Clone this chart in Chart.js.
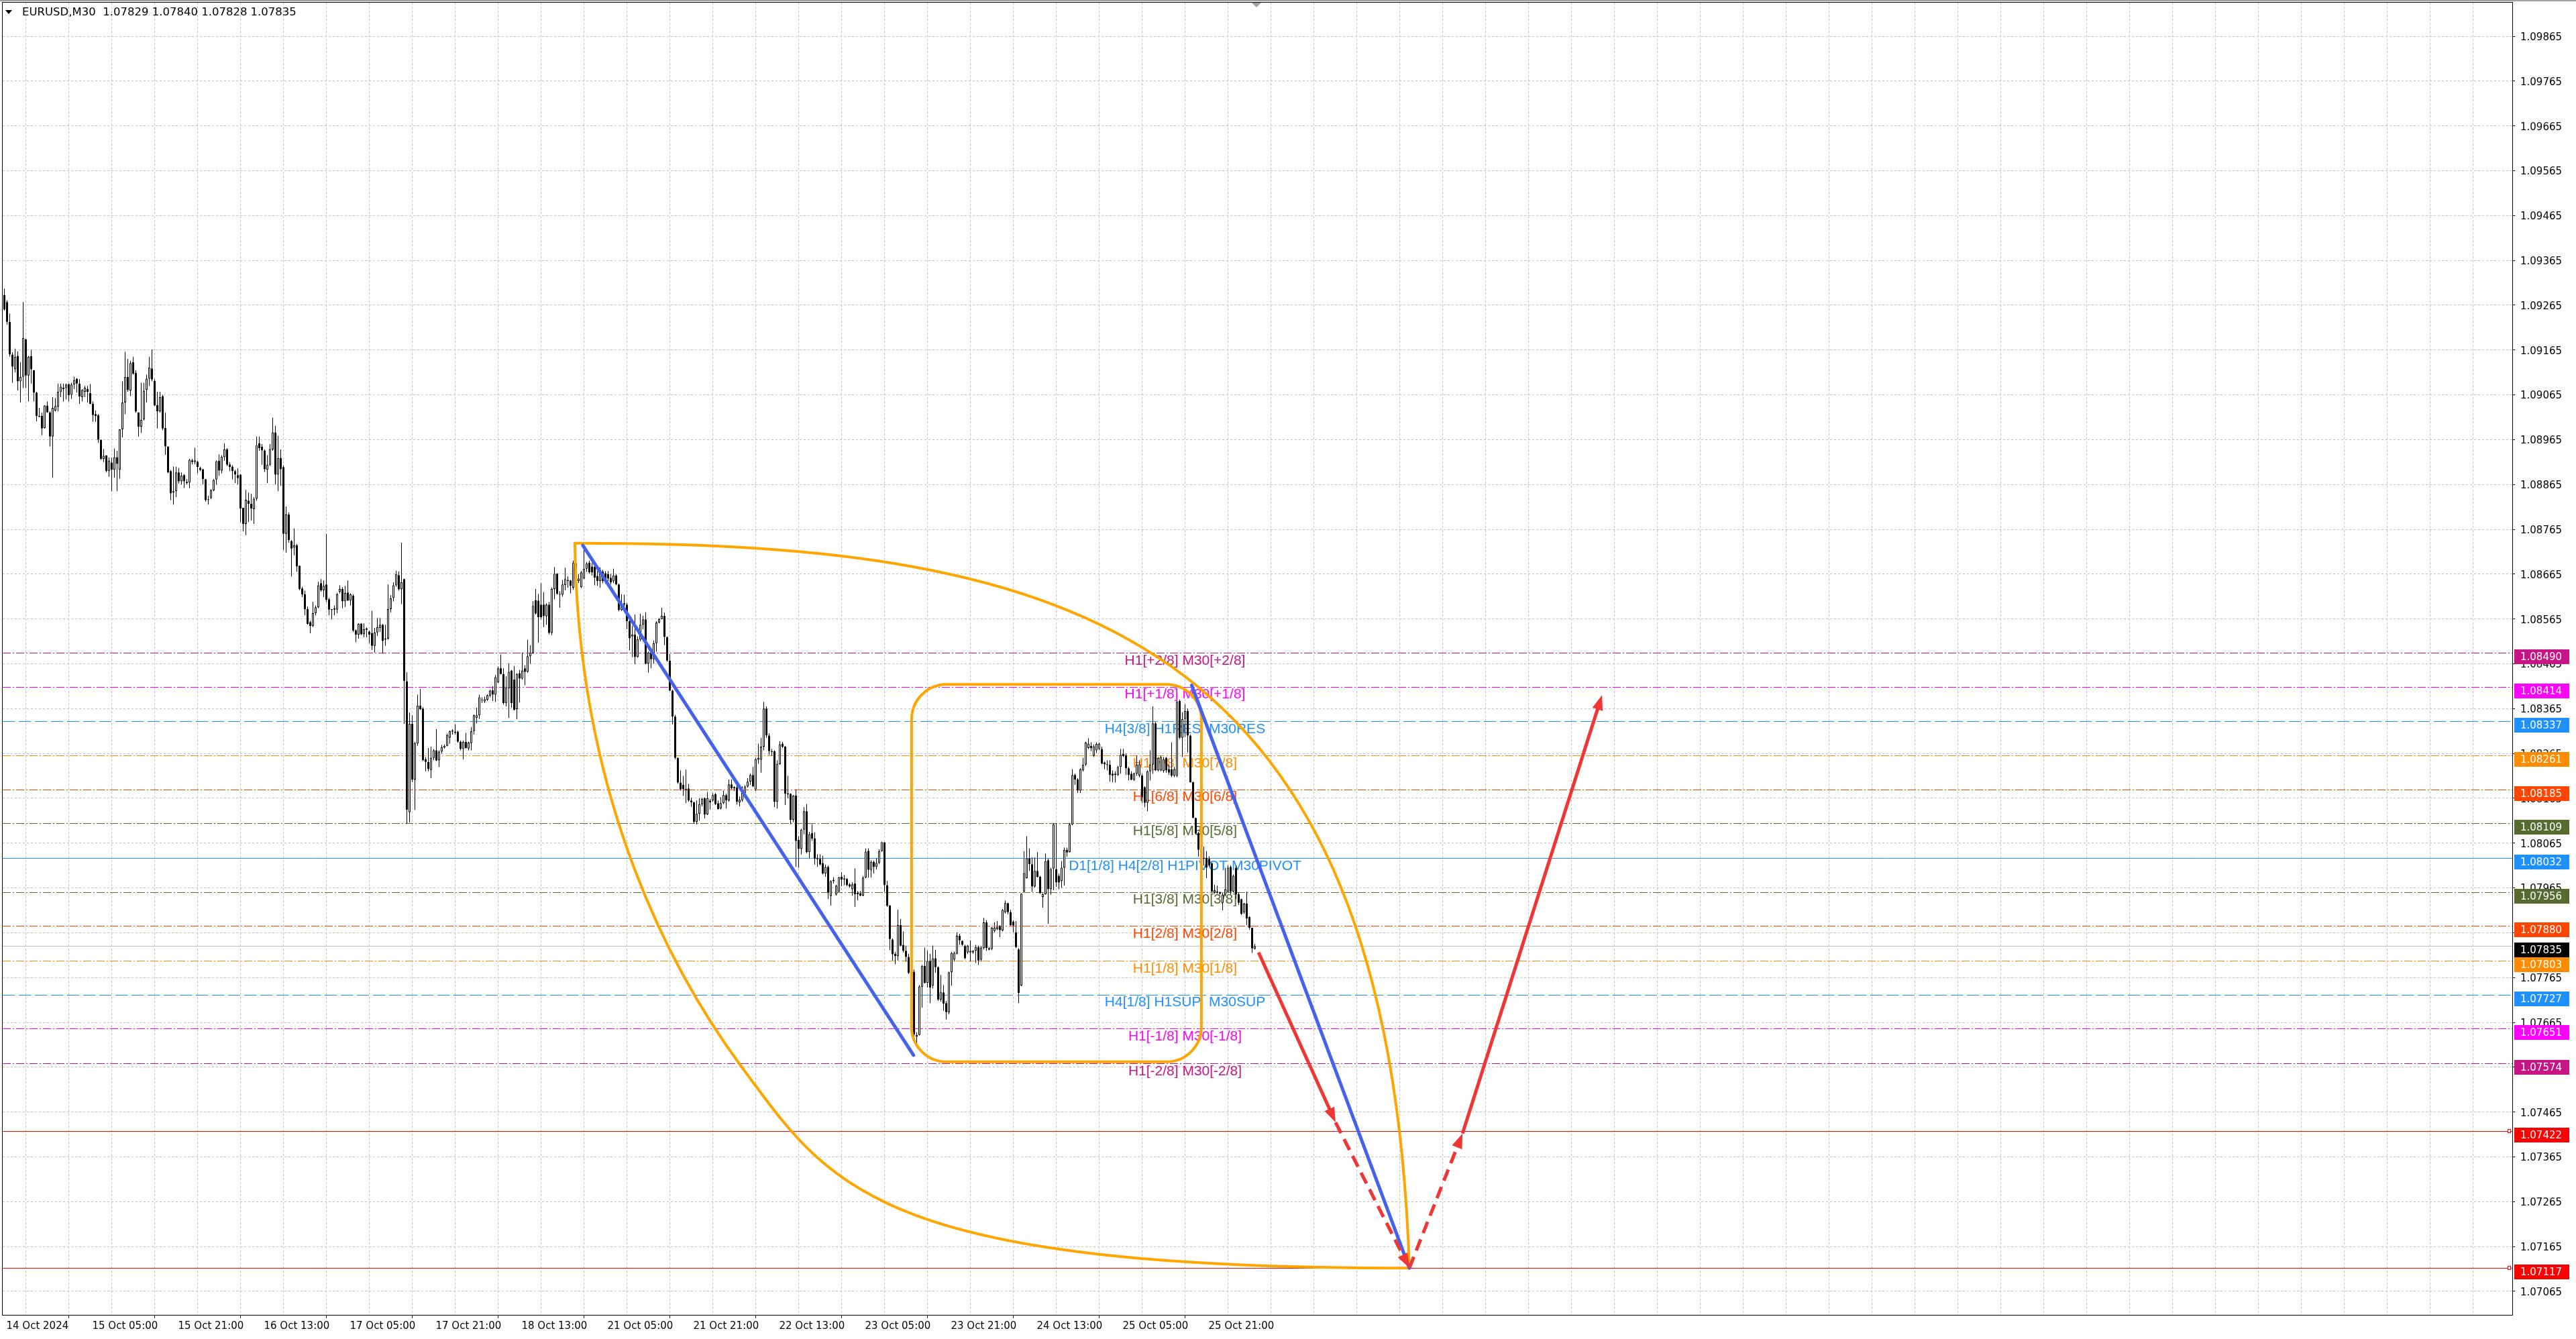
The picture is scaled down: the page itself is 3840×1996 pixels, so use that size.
<!DOCTYPE html>
<html>
<head>
<meta charset="utf-8">
<title>EURUSD,M30</title>
<script src="https://cdn.jsdelivr.net/npm/chart.js@4.4.1/dist/chart.umd.min.js"></script>
<style>
  html, body { margin: 0; padding: 0; overflow: hidden; background: #ffffff; }
  #wrap { width: 3840px; height: 1996px; position: relative; }
</style>
</head>
<body>
<div id="wrap"><canvas id="chart"></canvas></div>
<script>
// ---- EURUSD M30 candles, from 14 Oct 2024 13:00 (one entry per bar) ----
const opens = [
1.09288,1.09272,1.09228,1.09155,1.09122,1.09152,1.09095,1.09105,1.09189,1.09108,
1.09151,1.09120,1.09070,1.09018,1.09018,1.08991,1.09041,1.09026,1.08972,1.09030,
1.09038,1.09071,1.09078,1.09080,1.09089,1.09065,1.09088,1.09101,1.09090,1.09060,
1.09072,1.09078,1.09069,1.09045,1.09022,1.09020,1.08965,1.08922,1.08930,1.08895,
1.08914,1.08898,1.08926,1.08898,1.08988,1.09048,1.09105,1.09075,1.09138,1.09114,
1.09026,1.08994,1.09010,1.09076,1.09101,1.09124,1.09096,1.09042,1.09028,1.09062,
1.08991,1.08950,1.08895,1.08847,1.08850,1.08892,1.08872,1.08886,1.08868,1.08869,
1.08919,1.08915,1.08916,1.08902,1.08899,1.08877,1.08830,1.08835,1.08852,
1.08876,1.08918,1.08896,1.08926,1.08943,1.08910,1.08905,1.08895,1.08886,1.08887,1.08813,
1.08777,1.08829,1.08822,1.08810,1.08833,1.08957,1.08949,1.08941,1.08898,1.08909,
1.08943,1.08981,1.08887,1.08924,1.08904,1.08755,1.08798,1.08739,1.08724,1.08730,
1.08684,1.08633,1.08620,1.08587,1.08558,1.08549,1.08578,1.08591,1.08645,1.08629,
1.08642,1.08609,1.08587,1.08586,1.08586,1.08626,1.08632,1.08604,1.08624,1.08606,
1.08617,1.08540,1.08530,1.08554,1.08531,1.08544,1.08537,1.08534,1.08505,1.08535,
1.08545,1.08552,1.08519,1.08521,1.08587,1.08612,1.08640,1.08663,1.08631,1.08654,
1.08426,1.08134,1.08331,1.08207,1.08287,1.08372,
1.08365,1.08252,1.08246,1.08228,1.08255,1.08272,1.08250,1.08269,1.08278,1.08282,
1.08300,1.08314,1.08314,1.08314,1.08291,1.08275,1.08291,1.08276,1.08288,1.08315,
1.08344,1.08350,1.08383,1.08381,1.08385,1.08394,1.08406,1.08396,1.08424,1.08455,
1.08442,1.08377,1.08410,1.08450,1.08430,1.08364,1.08444,1.08432,1.08455,1.08447,
1.08482,1.08489,1.08607,1.08606,1.08597,1.08597,1.08571,1.08597,1.08534,1.08632,
1.08666,1.08621,1.08619,1.08641,1.08652,1.08651,1.08635,1.08690,1.08650,1.08636,
1.08655,1.08677,1.08691,1.08682,1.08682,1.08661,1.08650,1.08671,1.08667,1.08665,
1.08657,1.08649,1.08662,1.08642,1.08585,1.08600,1.08597,1.08560,
1.08526,1.08530,1.08480,1.08519,1.08552,1.08564,1.08465,1.08490,1.08475,1.08511,
1.08557,1.08565,1.08572,1.08525,1.08472,1.08405,1.08347,1.08255,1.08200,1.08195,
1.08182,1.08187,1.08160,1.08156,1.08112,1.08130,1.08151,1.08165,1.08129,1.08160,
1.08160,1.08174,1.08154,1.08142,1.08154,1.08172,1.08160,1.08196,1.08190,1.08189,
1.08156,1.08161,1.08177,1.08191,1.08202,1.08217,1.08185,1.08251,1.08251,1.08280,
1.08365,1.08305,1.08270,1.08270,1.08157,1.08241,1.08287,1.08280,1.08176,1.08175,
1.08117,1.08171,1.08072,1.08052,1.08095,1.08136,1.08045,1.08087,1.08076,1.08032,
1.08030,1.08020,1.07997,1.08012,1.07947,1.07980,1.07950,
1.07957,1.07990,1.07984,1.07985,1.07973,1.07962,1.07975,1.07954,1.07953,1.07948,
1.07988,1.08048,1.08005,1.08023,1.08012,1.08021,1.08047,1.08067,1.07971,1.07926,
1.07850,1.07818,1.07813,1.07882,1.07838,1.07825,1.07811,1.07778,1.07778,1.07633,
1.07637,1.07744,1.07791,1.07753,1.07802,1.07747,1.07808,1.07788,1.07716,1.07732,
1.07708,1.07687,1.07777,1.07805,1.07818,1.07858,1.07847,1.07836,1.07821,1.07821,
1.07821,1.07825,1.07833,1.07805,1.07831,1.07888,1.07827,1.07829,1.07869,1.07873,
1.07879,1.07870,1.07911,1.07931,1.07911,1.07890,1.07866,1.07828,1.07747,1.07957,
1.07987,1.08031,1.08018,1.07968,1.08003,1.07990,1.07945,1.07951,
1.08027,1.07962,1.08008,1.08007,1.07992,1.07980,1.08010,1.08050,1.08045,1.08107,
1.08217,1.08207,1.08182,1.08227,1.08240,1.08277,1.08282,1.08260,1.08272,1.08275,
1.08275,1.08245,1.08239,1.08240,1.08220,1.08220,1.08217,1.08235,1.08264,1.08261,
1.08232,1.08220,1.08206,1.08220,1.08216,1.08216,1.08190,1.08155,1.08225,1.08240,
1.08332,1.08227,1.08227,1.08226,1.08255,1.08230,1.08230,1.08215,1.08215,1.08382,
1.08300,1.08342,1.08360,1.08305,1.08201,1.08121,1.08087,1.08055,1.08030,1.08032,
1.08030,1.08020,1.07955,1.07957,1.07952,1.07932,1.07950,1.07957,1.08012,1.07957,
1.08010,1.07951,1.07940,1.07910,1.07930,1.07900,1.07876,1.07829
];
const highs = [
1.09302,1.09276,1.09246,1.09160,1.09168,1.09162,1.09138,1.09272,1.09190,1.09152,
1.09165,1.09120,1.09072,1.09036,1.09025,1.09042,1.09050,1.09028,1.09060,1.09058,
1.09090,1.09090,1.09090,1.09090,1.09090,1.09092,1.09105,1.09102,1.09100,1.09078,
1.09085,1.09085,1.09089,1.09050,1.09030,1.09022,1.08965,1.08944,1.08930,1.08925,
1.08925,1.08945,1.08940,1.08988,1.09095,1.09161,1.09145,1.09141,1.09150,1.09120,
1.09026,1.09092,1.09092,1.09110,1.09150,1.09166,1.09100,1.09072,1.09072,1.09065,
1.09025,1.08950,1.08897,1.08905,1.08905,1.08902,1.08892,1.08888,1.08877,1.08922,
1.08922,1.08947,1.08918,1.08905,1.08900,1.08877,1.08840,1.08855,1.08877,
1.08919,1.08932,1.08930,1.08957,1.08946,1.08915,1.08908,1.08898,1.08901,1.08888,1.08813,
1.08853,1.08847,1.08844,1.08837,1.08972,1.08972,1.08955,1.08943,1.08930,1.08955,
1.09014,1.08996,1.08974,1.08943,1.08908,1.08816,1.08803,1.08741,1.08767,1.08732,
1.08684,1.08637,1.08628,1.08593,1.08561,1.08603,1.08595,1.08648,1.08654,1.08651,
1.08755,1.08612,1.08587,1.08595,1.08623,1.08640,1.08636,1.08639,1.08651,1.08622,
1.08620,1.08542,1.08555,1.08556,1.08555,1.08546,1.08539,1.08583,1.08545,1.08567,
1.08567,1.08554,1.08552,1.08642,1.08618,1.08647,1.08673,1.08671,1.08735,1.08655,
1.08446,1.08356,1.08350,1.08291,1.08396,1.08409,
1.08368,1.08257,1.08277,1.08280,1.08275,1.08319,1.08272,1.08284,1.08285,1.08309,
1.08316,1.08319,1.08330,1.08316,1.08294,1.08294,1.08311,1.08291,1.08324,1.08352,
1.08367,1.08396,1.08390,1.08392,1.08397,1.08407,1.08415,1.08440,1.08459,1.08486,
1.08455,1.08437,1.08466,1.08451,1.08460,1.08444,1.08451,1.08490,1.08462,1.08519,
1.08506,1.08605,1.08632,1.08621,1.08645,1.08625,1.08600,1.08603,1.08635,1.08681,
1.08667,1.08627,1.08652,1.08679,1.08660,1.08652,1.08695,1.08696,1.08665,1.08672,
1.08719,1.08692,1.08695,1.08690,1.08685,1.08672,1.08680,1.08675,1.08672,1.08672,
1.08665,1.08677,1.08665,1.08644,1.08620,1.08619,1.08600,1.08562,
1.08550,1.08575,1.08526,1.08577,1.08572,1.08580,1.08492,1.08492,1.08517,1.08560,
1.08567,1.08590,1.08579,1.08526,1.08487,1.08407,1.08351,1.08256,1.08227,1.08215,
1.08229,1.08197,1.08166,1.08157,1.08160,1.08165,1.08166,1.08167,1.08179,1.08164,
1.08176,1.08177,1.08160,1.08167,1.08182,1.08175,1.08207,1.08207,1.08192,1.08195,
1.08169,1.08192,1.08194,1.08210,1.08220,1.08235,1.08255,1.08287,1.08300,1.08380,
1.08370,1.08310,1.08275,1.08272,1.08250,1.08292,1.08291,1.08282,1.08215,1.08176,
1.08172,1.08185,1.08080,1.08097,1.08145,1.08152,1.08090,1.08107,1.08089,1.08040,
1.08040,1.08037,1.08017,1.08015,1.07982,1.07989,1.07972,
1.07990,1.08000,1.07994,1.07987,1.07976,1.07978,1.08008,1.07958,1.07958,1.07991,
1.08053,1.08053,1.08027,1.08026,1.08031,1.08051,1.08068,1.08067,1.07981,1.07927,
1.07852,1.07822,1.07916,1.07896,1.07868,1.07836,1.07818,1.07781,1.07783,1.07643,
1.07748,1.07793,1.07832,1.07825,1.07818,1.07836,1.07827,1.07790,1.07771,1.07748,
1.07713,1.07778,1.07822,1.07823,1.07866,1.07863,1.07848,1.07838,1.07838,1.07848,
1.07826,1.07838,1.07836,1.07835,1.07898,1.07893,1.07833,1.07878,1.07888,1.07891,
1.07882,1.07918,1.07937,1.07932,1.07916,1.07893,1.07891,1.07831,1.07953,1.08047,
1.08080,1.08053,1.08033,1.08033,1.08045,1.07992,1.07953,1.08042,
1.08030,1.08010,1.08110,1.08110,1.07997,1.08025,1.08055,1.08055,1.08110,1.08230,
1.08220,1.08210,1.08232,1.08255,1.08291,1.08299,1.08290,1.08285,1.08290,1.08289,
1.08280,1.08247,1.08250,1.08250,1.08227,1.08225,1.08237,1.08275,1.08275,1.08265,
1.08235,1.08225,1.08222,1.08260,1.08250,1.08220,1.08192,1.08227,1.08272,1.08370,
1.08335,1.08257,1.08260,1.08257,1.08257,1.08240,1.08290,1.08235,1.08382,1.08385,
1.08357,1.08375,1.08365,1.08307,1.08202,1.08122,1.08090,1.08057,1.08057,1.08047,
1.08035,1.08022,1.07972,1.07970,1.07957,1.07955,1.08010,1.08015,1.08015,1.07995,
1.08015,1.07955,1.07941,1.07932,1.07957,1.07902,1.07876,1.07840
];
const lows = [
1.09253,1.09222,1.09150,1.09092,1.09115,1.09075,1.09048,1.09080,1.09080,1.09050,
1.09090,1.09050,1.09006,1.09015,1.08975,1.08990,1.09025,1.08950,1.08880,1.09028,
1.09028,1.09060,1.09050,1.09055,1.09050,1.09056,1.09078,1.09070,1.09045,1.09050,
1.09060,1.09048,1.09044,1.09005,1.09005,1.08958,1.08920,1.08915,1.08892,1.08882,
1.08850,1.08880,1.08850,1.08878,1.08970,1.09022,1.09072,1.09062,1.09110,1.09025,
1.08972,1.08980,1.09008,1.09048,1.09085,1.09095,1.09040,1.08990,1.09025,1.08986,
1.08931,1.08890,1.08830,1.08820,1.08837,1.08867,1.08865,1.08857,1.08865,1.08857,
1.08910,1.08910,1.08890,1.08895,1.08865,1.08827,1.08820,1.08832,1.08850,
1.08865,1.08884,1.08890,1.08918,1.08906,1.08895,1.08876,1.08868,1.08865,1.08781,1.08760,
1.08752,1.08781,1.08785,1.08777,1.08829,1.08940,1.08909,1.08893,1.08868,1.08906,
1.08940,1.08865,1.08850,1.08862,1.08719,1.08713,1.08735,1.08660,1.08707,1.08670,
1.08629,1.08614,1.08573,1.08552,1.08533,1.08547,1.08573,1.08589,1.08626,1.08614,
1.08603,1.08573,1.08564,1.08573,1.08578,1.08622,1.08589,1.08592,1.08605,1.08595,
1.08536,1.08513,1.08521,1.08529,1.08524,1.08524,1.08511,1.08496,1.08490,1.08527,
1.08536,1.08488,1.08505,1.08519,1.08580,1.08604,1.08637,1.08628,1.08598,1.08331,
1.08108,1.08111,1.08201,1.08139,1.08282,1.08362,
1.08248,1.08225,1.08225,1.08210,1.08250,1.08248,1.08235,1.08265,1.08276,1.08281,
1.08287,1.08307,1.08307,1.08289,1.08272,1.08252,1.08276,1.08272,1.08272,1.08307,
1.08332,1.08342,1.08378,1.08378,1.08382,1.08390,1.08382,1.08380,1.08422,1.08441,
1.08374,1.08370,1.08344,1.08367,1.08361,1.08341,1.08379,1.08430,1.08417,1.08445,
1.08465,1.08487,1.08575,1.08512,1.08564,1.08547,1.08552,1.08531,1.08529,1.08609,
1.08619,1.08590,1.08615,1.08629,1.08635,1.08622,1.08630,1.08637,1.08645,1.08634,
1.08654,1.08670,1.08666,1.08662,1.08640,1.08639,1.08635,1.08645,1.08644,1.08650,
1.08642,1.08645,1.08640,1.08582,1.08583,1.08582,1.08542,1.08495,
1.08480,1.08464,1.08479,1.08515,1.08542,1.08464,1.08445,1.08455,1.08465,1.08492,
1.08555,1.08564,1.08507,1.08470,1.08404,1.08330,1.08252,1.08197,1.08182,1.08170,
1.08154,1.08157,1.08146,1.08109,1.08107,1.08115,1.08147,1.08120,1.08128,1.08140,
1.08157,1.08150,1.08140,1.08140,1.08152,1.08142,1.08157,1.08185,1.08181,1.08151,
1.08147,1.08157,1.08176,1.08189,1.08195,1.08190,1.08181,1.08242,1.08222,1.08272,
1.08300,1.08262,1.08260,1.08145,1.08142,1.08240,1.08277,1.08150,1.08165,1.08107,
1.08112,1.08012,1.08010,1.08040,1.08085,1.08042,1.08030,1.08070,1.08017,1.08012,
1.08015,1.07995,1.07990,1.07940,1.07926,1.07975,1.07948,
1.07956,1.07969,1.07971,1.07969,1.07966,1.07948,1.07923,1.07937,1.07946,1.07947,
1.07987,1.07988,1.07988,1.07997,1.08006,1.08018,1.08046,1.07956,1.07923,1.07826,
1.07803,1.07795,1.07803,1.07835,1.07821,1.07801,1.07773,1.07776,1.07628,1.07611,
1.07636,1.07698,1.07752,1.07743,1.07708,1.07741,1.07776,1.07713,1.07711,1.07691,
1.07672,1.07683,1.07747,1.07801,1.07817,1.07838,1.07836,1.07806,1.07818,1.07801,
1.07818,1.07798,1.07793,1.07801,1.07828,1.07825,1.07826,1.07826,1.07866,1.07871,
1.07855,1.07868,1.07908,1.07906,1.07881,1.07866,1.07831,1.07708,1.07746,1.07956,
1.07986,1.08003,1.07956,1.07966,1.07988,1.07952,1.07921,1.07950,
1.07885,1.07950,1.07960,1.07967,1.07962,1.07965,1.07970,1.08035,1.08044,1.08105,
1.08195,1.08177,1.08177,1.08225,1.08237,1.08275,1.08270,1.08257,1.08266,1.08272,
1.08241,1.08230,1.08227,1.08202,1.08201,1.08200,1.08215,1.08220,1.08257,1.08217,
1.08205,1.08205,1.08204,1.08215,1.08212,1.08155,1.08145,1.08136,1.08205,1.08220,
1.08226,1.08225,1.08225,1.08222,1.08222,1.08217,1.08212,1.08212,1.08212,1.08297,
1.08257,1.08302,1.08267,1.08200,1.08120,1.08085,1.08035,1.08020,1.08015,1.07987,
1.08012,1.07955,1.07952,1.07952,1.07950,1.07915,1.07947,1.07955,1.07950,1.07955,
1.07940,1.07927,1.07905,1.07907,1.07882,1.07872,1.07820,1.07828
];
const closes = [
1.09255,1.09228,1.09155,1.09128,1.09150,1.09095,1.09105,1.09192,1.09108,1.09150,
1.09122,1.09070,1.09018,1.09016,1.08990,1.09041,1.09026,1.08972,1.09036,1.09040,
1.09072,1.09083,1.09081,1.09088,1.09064,1.09088,1.09098,1.09090,1.09061,1.09076,
1.09081,1.09072,1.09045,1.09020,1.09018,1.08965,1.08922,1.08929,1.08895,1.08918,
1.08898,1.08926,1.08911,1.08988,1.09048,1.09105,1.09076,1.09136,1.09112,1.09028,
1.08994,1.09009,1.09074,1.09101,1.09126,1.09099,1.09041,1.09028,1.09060,1.08990,
1.08950,1.08892,1.08845,1.08850,1.08892,1.08872,1.08885,1.08872,1.08871,1.08920,
1.08915,1.08919,1.08904,1.08897,1.08877,1.08830,1.08832,1.08852,1.08875,
1.08917,1.08896,1.08927,1.08943,1.08909,1.08904,1.08895,1.08887,1.08879,1.08811,1.08777,
1.08831,1.08822,1.08811,1.08833,1.08953,1.08946,1.08941,1.08899,1.08909,1.08944,
1.08981,1.08887,1.08924,1.08899,1.08755,1.08798,1.08741,1.08722,1.08730,1.08682,
1.08632,1.08620,1.08587,1.08554,1.08549,1.08578,1.08591,1.08640,1.08629,1.08639,
1.08608,1.08586,1.08585,1.08589,1.08620,1.08632,1.08604,1.08623,1.08606,1.08620,
1.08539,1.08530,1.08554,1.08531,1.08542,1.08541,1.08530,1.08505,1.08535,1.08547,
1.08552,1.08516,1.08522,1.08587,1.08611,1.08640,1.08665,1.08631,1.08647,1.08427,
1.08139,1.08331,1.08207,1.08288,1.08372,1.08364,
1.08250,1.08246,1.08230,1.08255,1.08272,1.08249,1.08269,1.08279,1.08282,1.08306,
1.08315,1.08316,1.08311,1.08291,1.08275,1.08291,1.08277,1.08289,1.08315,1.08350,
1.08350,1.08390,1.08384,1.08386,1.08395,1.08405,1.08396,1.08435,1.08455,1.08442,
1.08377,1.08411,1.08447,1.08377,1.08362,1.08442,1.08432,1.08450,1.08447,1.08482,
1.08490,1.08594,1.08577,1.08569,1.08569,1.08572,1.08597,1.08534,1.08632,1.08666,
1.08621,1.08619,1.08642,1.08654,1.08650,1.08639,1.08690,1.08650,1.08655,1.08669,
1.08677,1.08689,1.08669,1.08669,1.08657,1.08650,1.08675,1.08650,1.08650,1.08655,
1.08647,1.08662,1.08642,1.08585,1.08600,1.08597,1.08560,1.08522,
1.08530,1.08480,1.08520,1.08552,1.08564,1.08465,1.08490,1.08475,1.08511,1.08557,
1.08565,1.08572,1.08525,1.08472,1.08405,1.08347,1.08255,1.08200,1.08185,1.08185,
1.08186,1.08160,1.08156,1.08112,1.08130,1.08152,1.08164,1.08129,1.08165,1.08156,
1.08172,1.08152,1.08141,1.08154,1.08172,1.08160,1.08196,1.08187,1.08187,1.08157,
1.08162,1.08177,1.08191,1.08202,1.08217,1.08192,1.08252,1.08255,1.08280,1.08365,
1.08305,1.08270,1.08268,1.08157,1.08242,1.08285,1.08280,1.08175,1.08174,1.08117,
1.08171,1.08070,1.08052,1.08095,1.08136,1.08045,1.08085,1.08075,1.08030,1.08029,
1.08017,1.07997,1.08012,1.07955,1.07980,1.07983,1.07970,
1.07989,1.07984,1.07986,1.07971,1.07968,1.07973,1.07951,1.07951,1.07948,1.07988,
1.08046,1.08005,1.08023,1.08012,1.08021,1.08047,1.08067,1.07971,1.07925,1.07851,
1.07817,1.07813,1.07882,1.07836,1.07825,1.07811,1.07776,1.07777,1.07638,1.07637,
1.07745,1.07791,1.07753,1.07802,1.07743,1.07808,1.07788,1.07716,1.07732,1.07707,
1.07688,1.07777,1.07820,1.07820,1.07858,1.07848,1.07838,1.07808,1.07836,1.07825,
1.07825,1.07833,1.07803,1.07832,1.07888,1.07831,1.07831,1.07876,1.07876,1.07878,
1.07871,1.07916,1.07931,1.07911,1.07882,1.07881,1.07833,1.07731,1.07952,1.07998,
1.08031,1.08018,1.07968,1.08003,1.07990,1.07953,1.07951,1.08025,
1.07962,1.08007,1.08107,1.07977,1.07977,1.08010,1.08050,1.08044,1.08107,1.08217,
1.08207,1.08182,1.08230,1.08240,1.08289,1.08287,1.08277,1.08281,1.08286,1.08287,
1.08242,1.08241,1.08241,1.08217,1.08216,1.08217,1.08235,1.08262,1.08259,1.08232,
1.08217,1.08206,1.08221,1.08240,1.08241,1.08167,1.08155,1.08225,1.08240,1.08332,
1.08227,1.08255,1.08257,1.08252,1.08227,1.08222,1.08215,1.08230,1.08380,1.08300,
1.08342,1.08360,1.08305,1.08201,1.08121,1.08087,1.08050,1.08032,1.08032,1.08010,
1.08015,1.07957,1.07960,1.07955,1.07955,1.07950,1.07962,1.08010,1.07957,1.07992,
1.07950,1.07932,1.07907,1.07930,1.07897,1.07876,1.07830,1.07835
];

// ---- time axis: one label every 32 bars (16 hours) ----
const timeLabels = [
  '14 Oct 2024', '15 Oct 05:00', '15 Oct 21:00', '16 Oct 13:00', '17 Oct 05:00',
  '17 Oct 21:00', '18 Oct 13:00', '21 Oct 05:00', '21 Oct 21:00', '22 Oct 13:00',
  '23 Oct 05:00', '23 Oct 21:00', '24 Oct 13:00', '25 Oct 05:00', '25 Oct 21:00'
];
const barsPerLabel = 32;

// ---- price axis ticks ----
const priceTicks = [
  1.07065, 1.07165, 1.07265, 1.07365, 1.07465, 1.07565, 1.07665, 1.07765, 1.07865, 1.07965,
  1.08065, 1.08165, 1.08265, 1.08365, 1.08465, 1.08565, 1.08665, 1.08765, 1.08865, 1.08965,
  1.09065, 1.09165, 1.09265, 1.09365, 1.09465, 1.09565, 1.09665, 1.09765, 1.09865
];

// ---- Murrey levels ----
const levelPrices = [1.08490, 1.08414, 1.08337, 1.08261, 1.08185, 1.08109, 1.08032,
                     1.07956, 1.07880, 1.07803, 1.07727, 1.07651, 1.07574];
const levelNames = [
  'H1[+2/8] M30[+2/8]', 'H1[+1/8] M30[+1/8]', 'H4[3/8] H1RES  M30RES',
  'H1[7/8] M30[7/8]', 'H1[6/8] M30[6/8]', 'H1[5/8] M30[5/8]',
  'D1[1/8] H4[2/8] H1PIVOT M30PIVOT', 'H1[3/8] M30[3/8]', 'H1[2/8] M30[2/8]',
  'H1[1/8] M30[1/8]', 'H4[1/8] H1SUP  M30SUP', 'H1[-1/8] M30[-1/8]', 'H1[-2/8] M30[-2/8]'
];
const levelLabelBar = 440;
const targetPrices = [1.07422, 1.07117];

// ---- drawing objects, as [bar, price] anchors ----
const trendLine1 = [[215.6, 1.08729], [338.8, 1.07592]];
const trendLine2 = [[442.5, 1.08417], [523.6, 1.07117]];
const arcUpper = [[212.6, 1.08734], [398.4, 1.08735], [515.9, 1.08539], [523.6, 1.07117]];
const arcLower = [[212.6, 1.08734], [213.9, 1.08150], [250.1, 1.07765], [275.1, 1.07563],
                  [307.6, 1.07301], [323.6, 1.07117], [523.6, 1.07117]];
const rangeBars = [338.1, 446.1];
const rangePrices = [1.08419, 1.07577];
const pathDown = [[467.4, 1.07821], [496.1, 1.07442], [523.6, 1.07117]];
const pathUp = [[523.6, 1.07117], [543.4, 1.07417], [595.4, 1.08395]];

// ---- styling ----
const COL = {
  violet: '#C71585', magenta: '#FF00FF', blue: '#1E90FF', orange: '#FF8C00',
  orangeRed: '#FF4500', olive: '#556B2F'
};
const levelColors = [COL.violet, COL.magenta, COL.blue, COL.orange, COL.orangeRed, COL.olive, COL.blue,
                     COL.olive, COL.orangeRed, COL.orange, COL.blue, COL.magenta, COL.violet];
const levelDash = ['dd', 'dd', 'da', 'dd', 'dd', 'dd', 'so', 'dd', 'dd', 'dd', 'da', 'dd', 'dd'];
const DASH = { so: [], da: [18, 6], dd: [12, 3, 2, 3] };
const ARC_COLOR = '#FFA500';
const TREND_COLOR = '#4562EE';
const ARROW_COLOR = '#F03535';
const AXIS_FONT = { family: 'DejaVu Sans', size: 15 };

// plot geometry
const PLOT = { left: 4, top: 4, right: 3745, bottom: 1960 };
const BAR_X0 = 6.5, BAR_W = 4;
const PX_PER_PRICE = 66821, REF_PRICE = 1.09865, REF_Y = 54;

const xMin = (PLOT.left - BAR_X0) / BAR_W;
const xMax = (PLOT.right - BAR_X0) / BAR_W;
const yMax = REF_PRICE + (REF_Y - PLOT.top) / PX_PER_PRICE;
const yMin = REF_PRICE - (PLOT.bottom - REF_Y) / PX_PER_PRICE;

const bars = opens.map((_, i) => i);
const bodyData = bars.map(i => ({ x: i, y: [Math.min(opens[i], closes[i]), Math.max(opens[i], closes[i])] }));
const wickData = bars.map(i => ({ x: i, y: [lows[i], highs[i]] }));

const gridBars = [];
for (let b = 0; b <= xMax; b += barsPerLabel / 2) gridBars.push(b);
const labelAt = {};
timeLabels.forEach((t, k) => { labelAt[k * barsPerLabel] = t; });

function roundedRect(ctx, x, y, w, h, r) {
  ctx.beginPath();
  ctx.moveTo(x + r, y);
  ctx.lineTo(x + w - r, y); ctx.arcTo(x + w, y, x + w, y + r, r);
  ctx.lineTo(x + w, y + h - r); ctx.arcTo(x + w, y + h, x + w - r, y + h, r);
  ctx.lineTo(x + r, y + h); ctx.arcTo(x, y + h, x, y + h - r, r);
  ctx.lineTo(x, y + r); ctx.arcTo(x, y, x + r, y, r);
  ctx.closePath();
}

function arrowSegment(ctx, a, b, dashed, head) {
  const ang = Math.atan2(b[1] - a[1], b[0] - a[0]);
  const len = 22, half = 8;
  const ex = b[0] - len * 0.8 * Math.cos(ang), ey = b[1] - len * 0.8 * Math.sin(ang);
  ctx.setLineDash(dashed ? [18, 10] : []);
  ctx.beginPath(); ctx.moveTo(a[0], a[1]); ctx.lineTo(ex, ey); ctx.stroke();
  ctx.setLineDash([]);
  if (head) {
    const bx = b[0] - len * Math.cos(ang), by = b[1] - len * Math.sin(ang);
    ctx.beginPath();
    ctx.moveTo(b[0], b[1]);
    ctx.lineTo(bx + half * Math.sin(ang), by - half * Math.cos(ang));
    ctx.lineTo(bx - half * Math.sin(ang), by + half * Math.cos(ang));
    ctx.closePath(); ctx.fill();
  }
}

const overlay = {
  id: 'overlay',
  beforeDatasetsDraw(chart) {
    const { ctx, chartArea: a, scales: { x, y } } = chart;
    ctx.save();
    ctx.beginPath(); ctx.rect(a.left, a.top, a.right - a.left, a.bottom - a.top); ctx.clip();
    ctx.lineWidth = 1;
    // bid line
    const last = closes.length - 1;
    let yy = Math.round(y.getPixelForValue(closes[last])) + 0.5;
    ctx.strokeStyle = '#C0C0C0'; ctx.setLineDash([]);
    ctx.beginPath(); ctx.moveTo(a.left, yy); ctx.lineTo(a.right, yy); ctx.stroke();
    // level lines
    levelPrices.forEach((p, k) => {
      yy = Math.round(y.getPixelForValue(p)) + 0.5;
      ctx.strokeStyle = levelColors[k];
      ctx.setLineDash(DASH[levelDash[k]]);
      ctx.beginPath(); ctx.moveTo(a.left, yy); ctx.lineTo(a.right, yy); ctx.stroke();
    });
    ctx.setLineDash([]);
    // target lines
    targetPrices.forEach(p => {
      yy = Math.round(y.getPixelForValue(p)) + 0.5;
      ctx.strokeStyle = '#FF0000';
      ctx.beginPath(); ctx.moveTo(a.left, yy); ctx.lineTo(a.right, yy); ctx.stroke();
      ctx.fillStyle = '#FFFFFF';
      ctx.fillRect(a.right - 7, yy - 3.5, 5, 6);
      ctx.strokeRect(a.right - 6.5, yy - 3, 4, 5);
    });
    // level captions
    ctx.font = '21px "Liberation Sans", Arial, sans-serif';
    ctx.textAlign = 'center'; ctx.textBaseline = 'middle';
    const lx = x.getPixelForValue(levelLabelBar);
    levelPrices.forEach((p, k) => {
      ctx.fillStyle = levelColors[k];
      ctx.fillText(levelNames[k], lx, y.getPixelForValue(p) + 12);
    });
    ctx.restore();
  },
  afterDatasetsDraw(chart) {
    const { ctx, chartArea: a, scales: { x, y } } = chart;
    const P = pt => [x.getPixelForValue(pt[0]), y.getPixelForValue(pt[1])];
    ctx.save();
    ctx.beginPath(); ctx.rect(a.left, a.top, a.right - a.left, a.bottom - a.top); ctx.clip();
    ctx.lineJoin = 'round'; ctx.lineCap = 'round';
    // range box
    ctx.strokeStyle = ARC_COLOR; ctx.lineWidth = 4;
    const L = x.getPixelForValue(rangeBars[0]), R = x.getPixelForValue(rangeBars[1]);
    const T = y.getPixelForValue(rangePrices[0]), B = y.getPixelForValue(rangePrices[1]);
    roundedRect(ctx, L, T, R - L, B - T, 52); ctx.stroke();
    // arcs
    const u = arcUpper.map(P);
    ctx.beginPath(); ctx.moveTo(u[0][0], u[0][1]);
    ctx.bezierCurveTo(u[1][0], u[1][1], u[2][0], u[2][1], u[3][0], u[3][1]); ctx.stroke();
    const w = arcLower.map(P);
    ctx.beginPath(); ctx.moveTo(w[0][0], w[0][1]);
    ctx.bezierCurveTo(w[1][0], w[1][1], w[2][0], w[2][1], w[3][0], w[3][1]);
    ctx.bezierCurveTo(w[4][0], w[4][1], w[5][0], w[5][1], w[6][0], w[6][1]); ctx.stroke();
    // trend lines
    ctx.strokeStyle = TREND_COLOR; ctx.lineWidth = 5;
    [trendLine1, trendLine2].forEach(t => {
      const p0 = P(t[0]), p1 = P(t[1]);
      ctx.beginPath(); ctx.moveTo(p0[0], p0[1]); ctx.lineTo(p1[0], p1[1]); ctx.stroke();
    });
    // projected path
    ctx.strokeStyle = ARROW_COLOR; ctx.fillStyle = ARROW_COLOR; ctx.lineWidth = 5; ctx.lineCap = 'butt';
    const d = pathDown.map(P), up = pathUp.map(P);
    arrowSegment(ctx, d[0], d[1], false, true);
    arrowSegment(ctx, d[1], d[2], true, true);
    arrowSegment(ctx, up[0], up[1], true, true);
    arrowSegment(ctx, up[1], up[2], false, true);
    ctx.restore();
  },
  afterDraw(chart) {
    const { ctx, chartArea: a, scales: { x, y } } = chart;
    ctx.save();
    // window edges
    ctx.fillStyle = '#A0A0A0'; ctx.fillRect(0, 0, chart.width, 2);
    // frame
    ctx.strokeStyle = '#000000'; ctx.lineWidth = 1; ctx.setLineDash([]);
    ctx.strokeRect(a.left - 0.5, a.top - 0.5, a.right - a.left + 1, a.bottom - a.top + 1);
    // chart shift marker
    const sx = Math.round(x.getPixelForValue(closes.length - 0.5));
    ctx.fillStyle = '#A0A0A0';
    ctx.beginPath(); ctx.moveTo(sx - 7, a.top); ctx.lineTo(sx + 7, a.top); ctx.lineTo(sx, a.top + 7); ctx.closePath(); ctx.fill();
    // price tags on the axis (tag box sits a little below its price)
    const tags = levelPrices.map((p, k) => [p, levelColors[k]]);
    tags.push([closes[closes.length - 1], '#000000']);
    targetPrices.forEach(p => tags.push([p, '#FF0000']));
    ctx.font = AXIS_FONT.size + 'px "' + AXIS_FONT.family + '"';
    ctx.textAlign = 'left'; ctx.textBaseline = 'middle';
    tags.forEach(([p, c]) => {
      const ty = Math.round(y.getPixelForValue(p));
      ctx.fillStyle = c;
      ctx.fillRect(a.right + 3, ty - 5, 82, 22);
      ctx.fillStyle = '#FFFFFF';
      ctx.fillText(p.toFixed(5), a.right + 12, ty + 7);
    });
    // symbol caption
    const last = closes.length - 1;
    ctx.fillStyle = '#000000';
    ctx.beginPath(); ctx.moveTo(8, 15); ctx.lineTo(18, 15); ctx.lineTo(13, 21); ctx.closePath(); ctx.fill();
    ctx.font = '16.5px "DejaVu Sans"';
    ctx.textBaseline = 'middle';
    ctx.fillText('EURUSD,M30  ' + [opens[last], highs[last], lows[last], closes[last]].map(v => v.toFixed(5)).join(' '), 33, 19);
    ctx.restore();
  }
};

new Chart(document.getElementById('chart'), {
  type: 'bar',
  data: {
    datasets: [
      {
        label: 'body', data: bodyData, grouped: false, barThickness: 3, minBarLength: 1,
        backgroundColor: c => (closes[c.dataIndex] >= opens[c.dataIndex] ? '#FFFFFF' : '#000000'),
        borderColor: '#000000', borderWidth: 1, borderSkipped: false, inflateAmount: 0
      },
      {
        label: 'wick', data: wickData, grouped: false, barThickness: 1, minBarLength: 1,
        backgroundColor: '#000000', borderWidth: 0, inflateAmount: 0
      }
    ]
  },
  options: {
    responsive: true, maintainAspectRatio: false, animation: false, events: [],
    layout: { padding: { left: PLOT.left, top: PLOT.top, right: 0, bottom: 0 } },
    plugins: { legend: { display: false }, tooltip: { enabled: false }, title: { display: false } },
    scales: {
      x: {
        type: 'linear', min: xMin, max: xMax, bounds: 'data', offset: false,
        afterBuildTicks: s => { s.ticks = gridBars.map(v => ({ value: v })); },
        afterFit: s => { s.height = 1996 - PLOT.bottom; s.paddingLeft = 0; s.paddingRight = 0; },
        ticks: {
          autoSkip: false, maxRotation: 0, minRotation: 0, align: 'start', padding: 3, labelOffset: 3,
          color: '#000000', font: AXIS_FONT,
          callback: v => labelAt[v] || ''
        },
        grid: {
          color: '#C0C0C0', lineWidth: 1, drawTicks: true, tickLength: 5,
          tickColor: c => (c.tick && labelAt[c.tick.value] ? '#000000' : 'rgba(0,0,0,0)')
        },
        border: { display: false, dash: [3, 3] }
      },
      y: {
        type: 'linear', position: 'right', min: yMin, max: yMax, bounds: 'data',
        afterBuildTicks: s => { s.ticks = priceTicks.map(v => ({ value: v })); },
        afterFit: s => { s.width = 3840 - PLOT.right; s.paddingTop = 0; s.paddingBottom = 0; },
        ticks: { color: '#000000', font: AXIS_FONT, padding: 8, labelOffset: 2, callback: v => Number(v).toFixed(5) },
        grid: { color: '#C0C0C0', lineWidth: 1, drawTicks: true, tickLength: 4, tickColor: '#000000' },
        border: { display: false, dash: [3, 3] }
      }
    }
  },
  plugins: [overlay]
});
</script>
</body>
</html>
